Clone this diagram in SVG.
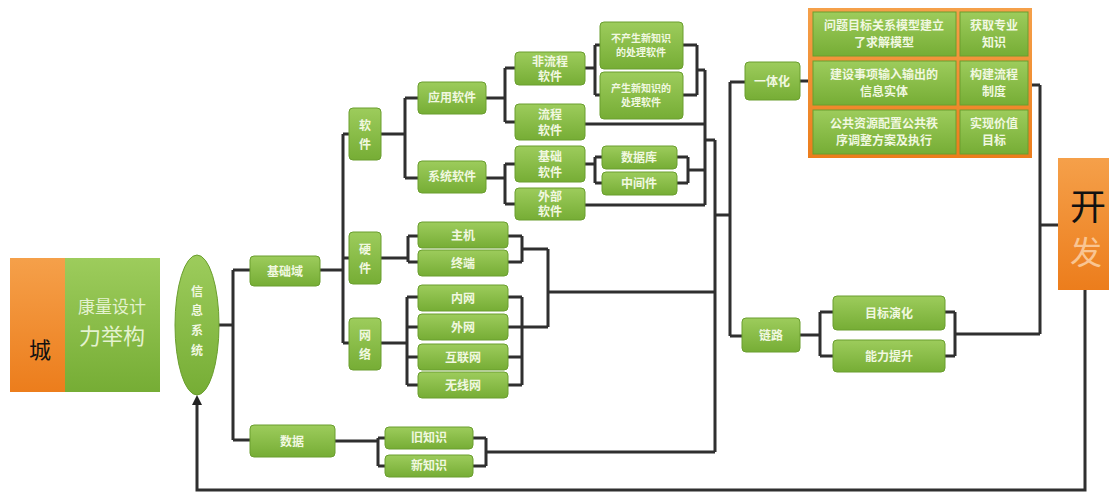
<svg xmlns="http://www.w3.org/2000/svg" width="1109" height="499" viewBox="0 0 1109 499">
<defs>
<linearGradient id="g" x1="0" y1="0" x2="0" y2="1"><stop offset="0" stop-color="#9dcc5c"/><stop offset="1" stop-color="#76ad35"/></linearGradient>
<linearGradient id="o" x1="0" y1="0" x2="0" y2="1"><stop offset="0" stop-color="#f5a04a"/><stop offset="1" stop-color="#ec7d1c"/></linearGradient>
<marker id="arr" markerWidth="10" markerHeight="10" refX="5" refY="5" orient="auto" markerUnits="userSpaceOnUse"><path d="M0,0 L10,5 L0,10 z" fill="#222"/></marker>
<style>
.n{fill:url(#g);stroke:#6a9e2e;stroke-width:1}
.t{font-family:"Noto Sans CJK SC","Noto Sans",sans-serif;font-size:12px;fill:#f1f8e0;text-anchor:middle;font-weight:bold}
.s{font-size:10px}
.c{fill:none;stroke:#2f2f2f;stroke-width:3}
</style>
</defs>
<g id="connectors" class="c">
<path d="M219,325H233M233,270V440M233,270H250M233,440H250"/>
<path d="M320,270H343M343,134V343M343,134H349M343,258H349M343,343H349"/>
<path d="M381,134H405M405,98V178M405,98H418M405,178H418"/>
<path d="M486,98H505M505,68V122M505,68H515M505,122H515"/>
<path d="M585,68H595M595,45V95M595,45H600M595,95H600"/>
<path d="M683,45H697M683,95H697M697,45V95M697,70H705"/>
<path d="M585,124H705"/>
<path d="M486,178H505M505,164V204M505,164H515M505,204H515"/>
<path d="M585,164H595M595,157V183M595,157H602M595,183H602"/>
<path d="M677,157H688M677,183H688M688,157V183M688,170H705"/>
<path d="M585,205H705M705,70V205M705,140H715"/>
<path d="M381,258H408M408,236V262M408,236H418M408,262H418"/>
<path d="M508,236H522M508,262H522M522,236V262M522,249H548"/>
<path d="M381,343H407M407,297V385M407,297H418M407,327H418M407,357H418M407,385H418"/>
<path d="M508,297H522M508,327H522M508,357H522M508,385H522M522,297V385M522,327H548"/>
<path d="M548,249V327M548,292H715"/>
<path d="M335,441H378M378,438V466M378,438H385M378,466H385"/>
<path d="M473,438H486M473,466H486M486,438V466M486,452H715"/>
<path d="M715,140V452M715,215H730M730,82V336M730,82H745M730,336H742"/>
<path d="M800,81H808"/>
<path d="M1032,85H1040M1040,85V334M1040,225H1058"/>
<path d="M800,335H820M820,312V356M820,312H833M820,356H833"/>
<path d="M945,312H955M945,356H955M955,312V356M955,334H1040"/>
<path d="M1085,290V490H197V400" marker-end="url(#arr)"/>
</g>
<g id="city">
<rect x="10" y="258" width="60" height="134" fill="url(#o)"/>
<rect x="65" y="258" width="95" height="134" fill="url(#g)"/>
<text x="40" y="358" style="font-family:'Noto Sans CJK SC',serif;font-size:22px;fill:#111;text-anchor:middle">城</text>
<text x="112" y="313" style="font-family:'Noto Sans CJK SC',serif;font-size:17px;fill:#e4f2cf;text-anchor:middle">康量设计</text>
<text x="112" y="344" style="font-family:'Noto Sans CJK SC',serif;font-size:22px;fill:#e4f2cf;text-anchor:middle">力举构</text>
</g>
<g id="info">
<ellipse cx="197" cy="325" rx="22" ry="70" class="n"/>
<text class="t" x="197" y="296">信</text><text class="t" x="197" y="315">息</text><text class="t" x="197" y="335">系</text><text class="t" x="197" y="355">统</text>
</g>
<g id="domain"><rect class="n" x="250" y="256" width="70" height="30" rx="4"/><text class="t" x="285" y="276">基础域</text></g>
<g id="software"><rect class="n" x="349" y="108" width="32" height="52" rx="4"/><text class="t" x="365" y="130">软</text><text class="t" x="365" y="149">件</text></g>
<g id="hardware"><rect class="n" x="349" y="232" width="32" height="52" rx="4"/><text class="t" x="365" y="254">硬</text><text class="t" x="365" y="273">件</text></g>
<g id="network"><rect class="n" x="349" y="318" width="32" height="52" rx="4"/><text class="t" x="365" y="340">网</text><text class="t" x="365" y="359">络</text></g>
<g id="app"><rect class="n" x="418" y="82" width="68" height="32" rx="4"/><text class="t" x="452" y="102">应用软件</text></g>
<g id="sys"><rect class="n" x="418" y="161" width="68" height="32" rx="4"/><text class="t" x="452" y="181">系统软件</text></g>
<g id="nonflow"><rect class="n" x="515" y="52" width="70" height="33" rx="4"/><text class="t" x="550" y="66">非流程</text><text class="t" x="550" y="81">软件</text></g>
<g id="flow"><rect class="n" x="515" y="104" width="70" height="36" rx="4"/><text class="t" x="550" y="119">流程</text><text class="t" x="550" y="135">软件</text></g>
<g id="base"><rect class="n" x="515" y="146" width="70" height="36" rx="4"/><text class="t" x="550" y="161">基础</text><text class="t" x="550" y="177">软件</text></g>
<g id="ext"><rect class="n" x="515" y="188" width="70" height="32" rx="4"/><text class="t" x="550" y="201">外部</text><text class="t" x="550" y="216">软件</text></g>
<g id="noknow"><rect class="n" x="600" y="22" width="83" height="47" rx="4"/><text class="t s" x="641" y="42">不产生新知识</text><text class="t s" x="641" y="56">的处理软件</text></g>
<g id="know"><rect class="n" x="600" y="72" width="83" height="47" rx="4"/><text class="t s" x="641" y="92">产生新知识的</text><text class="t s" x="641" y="106">处理软件</text></g>
<g id="db"><rect class="n" x="602" y="146" width="75" height="23" rx="4"/><text class="t" x="639" y="162">数据库</text></g>
<g id="mid"><rect class="n" x="602" y="172" width="75" height="23" rx="4"/><text class="t" x="639" y="188">中间件</text></g>
<g id="host"><rect class="n" x="418" y="222" width="90" height="26" rx="4"/><text class="t" x="463" y="240">主机</text></g>
<g id="term"><rect class="n" x="418" y="250" width="90" height="26" rx="4"/><text class="t" x="463" y="268">终端</text></g>
<g id="intra"><rect class="n" x="418" y="285" width="90" height="26" rx="4"/><text class="t" x="463" y="303">内网</text></g>
<g id="extra"><rect class="n" x="418" y="314" width="90" height="26" rx="4"/><text class="t" x="463" y="332">外网</text></g>
<g id="inet"><rect class="n" x="418" y="344" width="90" height="26" rx="4"/><text class="t" x="463" y="362">互联网</text></g>
<g id="wifi"><rect class="n" x="418" y="372" width="90" height="26" rx="4"/><text class="t" x="463" y="390">无线网</text></g>
<g id="data"><rect class="n" x="250" y="425" width="85" height="32" rx="4"/><text class="t" x="292" y="446">数据</text></g>
<g id="old"><rect class="n" x="385" y="427" width="88" height="22" rx="4"/><text class="t" x="429" y="442">旧知识</text></g>
<g id="new"><rect class="n" x="385" y="455" width="88" height="22" rx="4"/><text class="t" x="429" y="470">新知识</text></g>
<g id="integ"><rect class="n" x="745" y="62" width="55" height="38" rx="4"/><text class="t" x="772" y="86">一体化</text></g>
<g id="table">
<rect x="808" y="8" width="224" height="150" fill="url(#o)"/>
<rect class="n" x="813" y="12" width="143" height="44"/><rect class="n" x="960" y="12" width="68" height="44"/>
<rect class="n" x="813" y="61" width="143" height="44"/><rect class="n" x="960" y="61" width="68" height="44"/>
<rect class="n" x="813" y="110" width="143" height="44"/><rect class="n" x="960" y="110" width="68" height="44"/>
<text class="t" x="884" y="30">问题目标关系模型建立</text><text class="t" x="884" y="47">了求解模型</text>
<text class="t" x="994" y="30">获取专业</text><text class="t" x="994" y="47">知识</text>
<text class="t" x="884" y="79">建设事项输入输出的</text><text class="t" x="884" y="96">信息实体</text>
<text class="t" x="994" y="79">构建流程</text><text class="t" x="994" y="96">制度</text>
<text class="t" x="884" y="128">公共资源配置公共秩</text><text class="t" x="884" y="145">序调整方案及执行</text>
<text class="t" x="994" y="128">实现价值</text><text class="t" x="994" y="145">目标</text>
</g>
<g id="link"><rect class="n" x="742" y="318" width="58" height="34" rx="4"/><text class="t" x="771" y="340">链路</text></g>
<g id="evolve"><rect class="n" x="833" y="296" width="112" height="34" rx="4"/><text class="t" x="889" y="318">目标演化</text></g>
<g id="ability"><rect class="n" x="833" y="340" width="112" height="32" rx="4"/><text class="t" x="889" y="361">能力提升</text></g>
<g id="develop">
<rect x="1058" y="158" width="51" height="132" fill="url(#o)"/>
<text x="1070" y="220" style="font-family:'Noto Sans CJK SC',serif;font-size:36px;fill:#111">开</text>
<text x="1070" y="264" style="font-family:'Noto Sans CJK SC',serif;font-size:32px;fill:#f9c592">发</text>
</g>
</svg>
